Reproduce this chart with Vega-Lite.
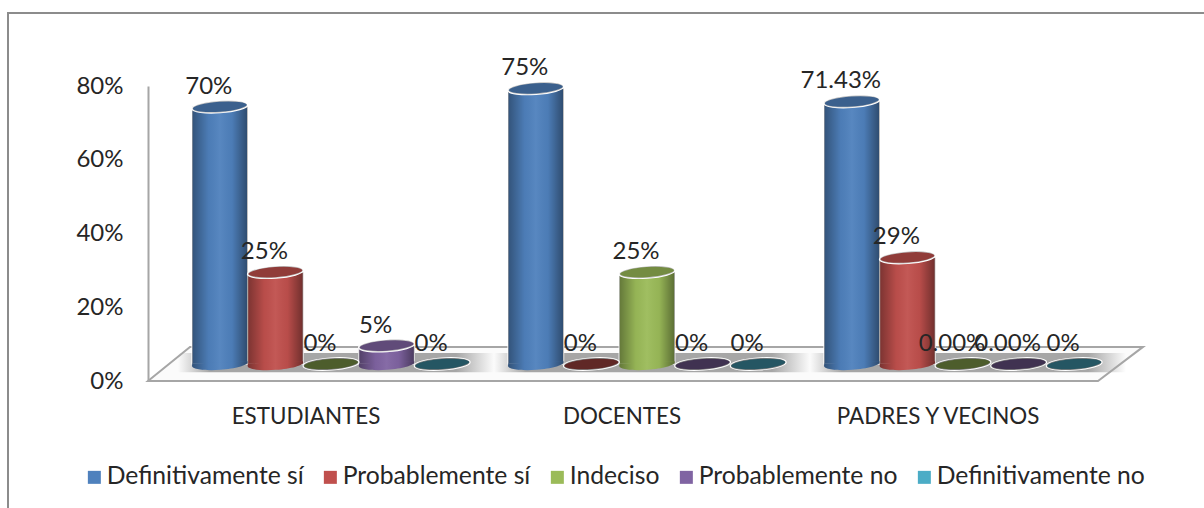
{"$schema":"https://vega.github.io/schema/vega-lite/v6.json","autosize":{"type":"none"},"padding":{"left":8,"top":13,"right":0,"bottom":0},"width":1198,"height":497,"background":"white","config":{"view":{"stroke":"#8c8c8c","strokeWidth":2},"font":"Lato","text":{"font":"Lato"}},
"datasets":{"main":[
{"cat":"ESTUDIANTES","serie":"Definitivamente sí","v":0.70,"label":"70%"},
{"cat":"ESTUDIANTES","serie":"Probablemente sí","v":0.25,"label":"25%"},
{"cat":"ESTUDIANTES","serie":"Indeciso","v":0,"label":"0%"},
{"cat":"ESTUDIANTES","serie":"Probablemente no","v":0.05,"label":"5%"},
{"cat":"ESTUDIANTES","serie":"Definitivamente no","v":0,"label":"0%"},
{"cat":"DOCENTES","serie":"Definitivamente sí","v":0.75,"label":"75%"},
{"cat":"DOCENTES","serie":"Probablemente sí","v":0,"label":"0%"},
{"cat":"DOCENTES","serie":"Indeciso","v":0.25,"label":"25%"},
{"cat":"DOCENTES","serie":"Probablemente no","v":0,"label":"0%"},
{"cat":"DOCENTES","serie":"Definitivamente no","v":0,"label":"0%"},
{"cat":"PADRES Y VECINOS","serie":"Definitivamente sí","v":0.7143,"label":"71.43%"},
{"cat":"PADRES Y VECINOS","serie":"Probablemente sí","v":0.29,"label":"29%"},
{"cat":"PADRES Y VECINOS","serie":"Indeciso","v":0,"label":"0.00%"},
{"cat":"PADRES Y VECINOS","serie":"Probablemente no","v":0,"label":"0.00%"},
{"cat":"PADRES Y VECINOS","serie":"Definitivamente no","v":0,"label":"0%"}],
"floor":[{"pos":0,"top":0,"bottom":0},{"pos":42,"top":0.0925,"bottom":0},{"pos":950,"top":0.0925,"bottom":0},{"pos":995,"top":0.0925,"bottom":0.0925}],
"cats":[{"cat":"ESTUDIANTES"},{"cat":"DOCENTES"},{"cat":"PADRES Y VECINOS"}]},
"resolve":{"scale":{"x":"independent","y":"independent"},"axis":{"x":"independent","y":"independent"}},
"layer":[
{"data":{"name":"floor"},"mark":{"type":"area","fill":"#fbfbfb","stroke":"#a6a6a6","strokeWidth":2,"interpolate":"linear"},"encoding":{"x":{"field":"pos","type":"quantitative","axis":null,"scale":{"domain":[0,995],"range":[140,1135],"nice":false,"zero":false}},"y":{"field":"top","type":"quantitative","scale":{"domain":[0,0.8],"range":[368,73],"nice":false},"axis":{"orient":"left","offset":-140,"values":[0,0.2,0.4,0.6,0.8],"format":".0%","title":null,"grid":false,"ticks":false,"domainColor":"#a6a6a6","domainWidth":2,"labelPadding":25,"labelFontSize":24,"labelColor":"#262626","labelFont":"Lato"}},"y2":{"field":"bottom"}}},
{"data":{"name":"cats"},"mark":{"type":"bar","xOffset":30,"fill":{"gradient":"linear","x1":0,"x2":1,"y1":0,"y2":0,"stops":[{"offset":0,"color":"rgba(166,166,166,0)"},{"offset":0.1,"color":"#a6a6a6"},{"offset":0.88,"color":"#a6a6a6"},{"offset":1,"color":"rgba(166,166,166,0)"}]}},"encoding":{"x":{"field":"cat","type":"nominal","sort":null,"scale":{"domain":["ESTUDIANTES","DOCENTES","PADRES Y VECINOS"],"range":[140,1088],"paddingInner":0,"paddingOuter":0},"axis":{"orient":"bottom","offset":-129,"title":null,"domain":false,"ticks":false,"labelAngle":0,"labelPadding":24,"labelFontSize":22.4,"labelLimit":400,"labelColor":"#262626","labelFont":"Lato"}},"y":{"datum":0.076,"type":"quantitative","scale":{"domain":[0,0.8],"range":[368,73],"nice":false},"axis":null},"y2":{"datum":0.024}}},
{"data":{"name":"main"},"transform":[{"filter":"datum.v > 0"}],"mark":{"type":"bar","stroke":"white","strokeWidth":1.2},"encoding":{"x":{"field":"cat","type":"nominal","sort":null,"axis":null,"scale":{"domain":["ESTUDIANTES","DOCENTES","PADRES Y VECINOS"],"range":[140,1088],"paddingInner":0,"paddingOuter":0}},"xOffset":{"field":"serie","type":"nominal","sort":null,"scale":{"domain":["Definitivamente sí","Probablemente sí","Indeciso","Probablemente no","Definitivamente no"],"range":[44,322],"paddingInner":0,"paddingOuter":0}},"y":{"field":"v","type":"quantitative","stack":null,"axis":null,"scale":{"domain":[0,0.8],"range":[351,57],"nice":false}},"color":{"field":"serie","type":"nominal","sort":null,"scale":{"domain":["Definitivamente sí","Probablemente sí","Indeciso","Probablemente no","Definitivamente no"],"range":["#4f81bd","#c0504d","#9bbb59","#8064a2","#4bacc6"]},"legend":{"orient":"none","legendX":74,"legendY":452,"direction":"horizontal","title":null,"symbolType":"square","symbolSize":169,"symbolStrokeWidth":0,"labelFontSize":24.7,"labelLimit":400,"labelColor":"#262626","labelFont":"Lato","columnPadding":14,"labelOffset":0,"gridAlign":"none"}}}},
{"data":{"name":"main"},"transform":[{"filter":"datum.v > 0"}],"mark":{"type":"bar","fill":{"gradient":"linear","x1":0,"x2":1,"y1":0,"y2":0,"stops":[{"offset":0,"color":"rgba(0,0,0,0.36)"},{"offset":0.3,"color":"rgba(0,0,0,0.04)"},{"offset":0.5,"color":"rgba(255,255,255,0.05)"},{"offset":0.72,"color":"rgba(0,0,0,0.04)"},{"offset":1,"color":"rgba(0,0,0,0.42)"}]}},"encoding":{"x":{"field":"cat","type":"nominal","sort":null,"axis":null,"scale":{"domain":["ESTUDIANTES","DOCENTES","PADRES Y VECINOS"],"range":[140,1088],"paddingInner":0,"paddingOuter":0}},"xOffset":{"field":"serie","type":"nominal","sort":null,"scale":{"domain":["Definitivamente sí","Probablemente sí","Indeciso","Probablemente no","Definitivamente no"],"range":[44,322],"paddingInner":0,"paddingOuter":0}},"y":{"field":"v","type":"quantitative","stack":null,"axis":null,"scale":{"domain":[0,0.8],"range":[351,57],"nice":false}}}},
{"data":{"name":"main"},"transform":[{"filter":"datum.v > 0"}],"mark":{"type":"point","filled":true,"opacity":1,"size":3090,"shape":"M-0.99,-0.02L-0.998,0.07A1,0.21,-4,0,0,0.998,-0.07L0.99,-0.1Z"},"encoding":{"x":{"field":"cat","type":"nominal","sort":null,"axis":null,"scale":{"domain":["ESTUDIANTES","DOCENTES","PADRES Y VECINOS"],"range":[140,1088],"paddingInner":0,"paddingOuter":0}},"xOffset":{"field":"serie","type":"nominal","sort":null,"scale":{"domain":["Definitivamente sí","Probablemente sí","Indeciso","Probablemente no","Definitivamente no"],"range":[44,322],"paddingInner":0,"paddingOuter":0}},"y":{"datum":0,"type":"quantitative","axis":null,"scale":{"domain":[0,0.8],"range":[351,57],"nice":false}},"color":{"field":"serie","type":"nominal","sort":null,"legend":null}}},
{"data":{"name":"main"},"transform":[{"filter":"datum.v > 0"}],"mark":{"type":"point","filled":true,"opacity":1,"size":3090,"fill":{"gradient":"linear","x1":0,"x2":1,"y1":0,"y2":0,"stops":[{"offset":0,"color":"rgba(0,0,0,0.36)"},{"offset":0.3,"color":"rgba(0,0,0,0.04)"},{"offset":0.5,"color":"rgba(255,255,255,0.05)"},{"offset":0.72,"color":"rgba(0,0,0,0.04)"},{"offset":1,"color":"rgba(0,0,0,0.42)"}]},"shape":"M-0.99,-0.02L-0.998,0.07A1,0.21,-4,0,0,0.998,-0.07L0.99,-0.1Z"},"encoding":{"x":{"field":"cat","type":"nominal","sort":null,"axis":null,"scale":{"domain":["ESTUDIANTES","DOCENTES","PADRES Y VECINOS"],"range":[140,1088],"paddingInner":0,"paddingOuter":0}},"xOffset":{"field":"serie","type":"nominal","sort":null,"scale":{"domain":["Definitivamente sí","Probablemente sí","Indeciso","Probablemente no","Definitivamente no"],"range":[44,322],"paddingInner":0,"paddingOuter":0}},"y":{"datum":0,"type":"quantitative","axis":null,"scale":{"domain":[0,0.8],"range":[351,57],"nice":false}}}},
{"data":{"name":"main"},"mark":{"type":"point","filled":false,"opacity":1,"size":3090,"stroke":"white","strokeWidth":1.6,"shape":"M-0.998,0.07A1,0.21,-4,1,1,0.998,-0.07A1,0.21,-4,1,1,-0.998,0.07Z"},"encoding":{"x":{"field":"cat","type":"nominal","sort":null,"axis":null,"scale":{"domain":["ESTUDIANTES","DOCENTES","PADRES Y VECINOS"],"range":[140,1088],"paddingInner":0,"paddingOuter":0}},"xOffset":{"field":"serie","type":"nominal","sort":null,"scale":{"domain":["Definitivamente sí","Probablemente sí","Indeciso","Probablemente no","Definitivamente no"],"range":[44,322],"paddingInner":0,"paddingOuter":0}},"y":{"field":"v","type":"quantitative","stack":null,"axis":null,"scale":{"domain":[0,0.8],"range":[351,57],"nice":false}},"fill":{"field":"serie","type":"nominal","sort":null,"scale":{"domain":["Definitivamente sí","Probablemente sí","Indeciso","Probablemente no","Definitivamente no"],"range":["#4f81bd","#c0504d","#9bbb59","#8064a2","#4bacc6"]},"legend":null}}},
{"data":{"name":"main"},"mark":{"type":"point","filled":true,"size":3000,"fill":"black","shape":"M-0.998,0.07A1,0.21,-4,1,1,0.998,-0.07A1,0.21,-4,1,1,-0.998,0.07Z"},"encoding":{"x":{"field":"cat","type":"nominal","sort":null,"axis":null,"scale":{"domain":["ESTUDIANTES","DOCENTES","PADRES Y VECINOS"],"range":[140,1088],"paddingInner":0,"paddingOuter":0}},"xOffset":{"field":"serie","type":"nominal","sort":null,"scale":{"domain":["Definitivamente sí","Probablemente sí","Indeciso","Probablemente no","Definitivamente no"],"range":[44,322],"paddingInner":0,"paddingOuter":0}},"y":{"field":"v","type":"quantitative","stack":null,"axis":null,"scale":{"domain":[0,0.8],"range":[351,57],"nice":false}},"opacity":{"condition":{"test":"datum.v === 0","value":0.5},"value":0.25}}},
{"data":{"name":"main"},"mark":{"type":"text","fontSize":24,"font":"Lato","color":"#262626","dx":-11,"dy":-20},"encoding":{"x":{"field":"cat","type":"nominal","sort":null,"axis":null,"scale":{"domain":["ESTUDIANTES","DOCENTES","PADRES Y VECINOS"],"range":[140,1088],"paddingInner":0,"paddingOuter":0}},"xOffset":{"field":"serie","type":"nominal","sort":null,"scale":{"domain":["Definitivamente sí","Probablemente sí","Indeciso","Probablemente no","Definitivamente no"],"range":[44,322],"paddingInner":0,"paddingOuter":0}},"y":{"field":"v","type":"quantitative","stack":null,"axis":null,"scale":{"domain":[0,0.8],"range":[351,57],"nice":false}},"text":{"field":"label","type":"nominal"}}}
]}
